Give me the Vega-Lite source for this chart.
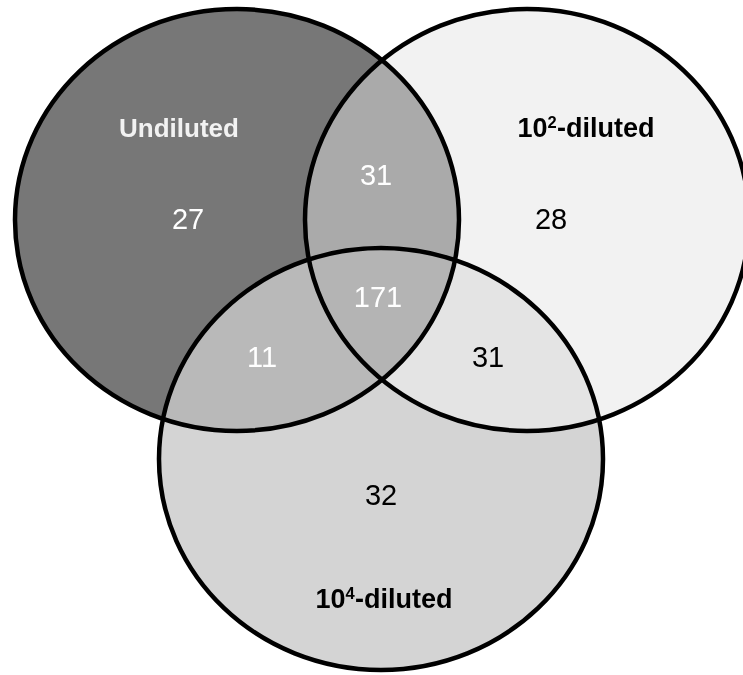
{
  "$schema": "https://vega.github.io/schema/vega-lite/v6.json",
  "width": 743,
  "height": 675,
  "padding": 0,
  "autosize": {"type": "none"},
  "background": "white",
  "config": {"view": {"stroke": null}},
  "datasets": {
    "circles": [
      {"set": "Undiluted", "x": 237, "y": 220},
      {"set": "10²-diluted", "x": 527, "y": 220},
      {"set": "10⁴-diluted", "x": 381, "y": 459}
    ],
    "labels": [
      {"label": "Undiluted", "base": "Undiluted", "sup": "", "rest": "", "x": 179, "y": 137},
      {"label": "10²-diluted", "base": "10", "sup": "2", "rest": "-diluted", "x": 585.5, "y": 137},
      {"label": "10⁴-diluted", "base": "10", "sup": "4", "rest": "-diluted", "x": 383.5, "y": 608}
    ],
    "counts": [
      {"region": "Undiluted only", "sets": "U", "count": 27, "x": 188, "y": 220},
      {"region": "Undiluted and 10²", "sets": "U,D2", "count": 31, "x": 376, "y": 176},
      {"region": "10² only", "sets": "D2", "count": 28, "x": 551, "y": 220},
      {"region": "All three", "sets": "U,D2,D4", "count": 171, "x": 378, "y": 298},
      {"region": "Undiluted and 10⁴", "sets": "U,D4", "count": 11, "x": 262, "y": 358},
      {"region": "10² and 10⁴", "sets": "D2,D4", "count": 31, "x": 488, "y": 358},
      {"region": "10⁴ only", "sets": "D4", "count": 32, "x": 381, "y": 496}
    ]
  },
  "encoding": {
    "x": {"field": "x", "type": "quantitative", "scale": {"domain": [0, 743], "nice": false, "zero": false}, "axis": null},
    "y": {"field": "y", "type": "quantitative", "scale": {"domain": [0, 675], "nice": false, "zero": false, "reverse": true}, "axis": null}
  },
  "layer": [
    {
      "data": {"name": "circles"},
      "transform": [{"filter": "datum.set === 'Undiluted'"}],
      "mark": {"type": "point", "shape": "M-1,0C-1,-0.5247,-0.5523,-0.95,0,-0.95C0.5523,-0.95,1,-0.5247,1,0C1,0.5247,0.5523,0.95,0,0.95C-0.5523,0.95,-1,0.5247,-1,0Z", "size": 197136, "filled": true, "fill": "#777777", "fillOpacity": 1, "opacity": 1, "strokeWidth": 0}
    },
    {
      "data": {"name": "circles"},
      "transform": [{"filter": "datum.set === '10⁴-diluted'"}],
      "mark": {"type": "point", "shape": "M-1,0C-1,-0.5247,-0.5523,-0.95,0,-0.95C0.5523,-0.95,1,-0.5247,1,0C1,0.5247,0.5523,0.95,0,0.95C-0.5523,0.95,-1,0.5247,-1,0Z", "size": 197136, "filled": true, "fill": "#c9c9c9", "fillOpacity": 0.8015, "opacity": 1, "strokeWidth": 0}
    },
    {
      "data": {"name": "circles"},
      "transform": [{"filter": "datum.set === '10²-diluted'"}],
      "mark": {"type": "point", "shape": "M-1,0C-1,-0.5247,-0.5523,-0.95,0,-0.95C0.5523,-0.95,1,-0.5247,1,0C1,0.5247,0.5523,0.95,0,0.95C-0.5523,0.95,-1,0.5247,-1,0Z", "size": 197136, "filled": true, "fill": "#ffffff", "fillOpacity": 1, "opacity": 1, "strokeWidth": 0, "blend": "difference"}
    },
    {
      "data": {"name": "circles"},
      "transform": [{"filter": "datum.set === '10²-diluted'"}],
      "mark": {"type": "point", "shape": "M-1,0C-1,-0.5247,-0.5523,-0.95,0,-0.95C0.5523,-0.95,1,-0.5247,1,0C1,0.5247,0.5523,0.95,0,0.95C-0.5523,0.95,-1,0.5247,-1,0Z", "size": 197136, "filled": true, "fill": "#2b2b2b", "fillOpacity": 0.803, "opacity": 1, "strokeWidth": 0, "blend": "lighten"}
    },
    {
      "data": {"name": "circles"},
      "transform": [{"filter": "datum.set === '10²-diluted'"}],
      "mark": {"type": "point", "shape": "M-1,0C-1,-0.5247,-0.5523,-0.95,0,-0.95C0.5523,-0.95,1,-0.5247,1,0C1,0.5247,0.5523,0.95,0,0.95C-0.5523,0.95,-1,0.5247,-1,0Z", "size": 197136, "filled": true, "fill": "#b9b9b9", "fillOpacity": 0.747, "opacity": 1, "strokeWidth": 0, "blend": "color-dodge"}
    },
    {
      "data": {"name": "circles"},
      "transform": [{"filter": "datum.set === '10²-diluted'"}],
      "mark": {"type": "point", "shape": "M-1,0C-1,-0.5247,-0.5523,-0.95,0,-0.95C0.5523,-0.95,1,-0.5247,1,0C1,0.5247,0.5523,0.95,0,0.95C-0.5523,0.95,-1,0.5247,-1,0Z", "size": 197136, "filled": true, "fill": "#989898", "fillOpacity": 1, "opacity": 1, "strokeWidth": 0, "blend": "multiply"}
    },
    {
      "data": {"name": "circles"},
      "transform": [{"filter": "datum.set === '10²-diluted'"}],
      "mark": {"type": "point", "shape": "M-1,0C-1,-0.5247,-0.5523,-0.95,0,-0.95C0.5523,-0.95,1,-0.5247,1,0C1,0.5247,0.5523,0.95,0,0.95C-0.5523,0.95,-1,0.5247,-1,0Z", "size": 197136, "filled": true, "fill": "#313131", "fillOpacity": 1, "opacity": 1, "strokeWidth": 0, "blend": "difference"}
    },
    {
      "data": {"name": "circles"},
      "transform": [{"filter": "datum.set === '10²-diluted'"}],
      "mark": {"type": "point", "shape": "M-1,0C-1,-0.5247,-0.5523,-0.95,0,-0.95C0.5523,-0.95,1,-0.5247,1,0C1,0.5247,0.5523,0.95,0,0.95C-0.5523,0.95,-1,0.5247,-1,0Z", "size": 197136, "filled": true, "fill": "#ffffff", "fillOpacity": 1, "opacity": 1, "strokeWidth": 0, "blend": "difference"}
    },
    {
      "data": {"name": "circles"},
      "mark": {"type": "point", "shape": "M-1,0C-1,-0.5247,-0.5523,-0.95,0,-0.95C0.5523,-0.95,1,-0.5247,1,0C1,0.5247,0.5523,0.95,0,0.95C-0.5523,0.95,-1,0.5247,-1,0Z", "size": 197136, "filled": false, "fill": null, "stroke": "#000000", "strokeWidth": 4.5, "opacity": 1}
    },
    {
      "data": {"name": "labels"},
      "transform": [{"filter": "datum.sup === ''"}],
      "mark": {"type": "text", "font": "Liberation Sans", "fontWeight": "bold", "fontSize": 26, "align": "center", "baseline": "alphabetic", "color": "#f2f2f2"},
      "encoding": {"text": {"field": "base", "type": "nominal"}}
    },
    {
      "data": {"name": "labels"},
      "transform": [{"filter": "datum.sup !== ''"}],
      "mark": {"type": "text", "font": "Liberation Sans", "fontWeight": "bold", "fontSize": 27, "align": "left", "baseline": "alphabetic", "dx": -68, "color": "#000000"},
      "encoding": {"text": {"field": "base", "type": "nominal"}}
    },
    {
      "data": {"name": "labels"},
      "transform": [{"filter": "datum.sup !== ''"}],
      "mark": {"type": "text", "font": "Liberation Sans", "fontWeight": "bold", "fontSize": 16.5, "align": "left", "baseline": "alphabetic", "dx": -38, "dy": -9, "color": "#000000"},
      "encoding": {"text": {"field": "sup", "type": "nominal"}}
    },
    {
      "data": {"name": "labels"},
      "transform": [{"filter": "datum.sup !== ''"}],
      "mark": {"type": "text", "font": "Liberation Sans", "fontWeight": "bold", "fontSize": 27, "align": "left", "baseline": "alphabetic", "dx": -28.5, "color": "#000000"},
      "encoding": {"text": {"field": "rest", "type": "nominal"}}
    },
    {
      "data": {"name": "counts"},
      "mark": {"type": "text", "font": "Liberation Sans", "fontSize": 29, "align": "center", "baseline": "middle"},
      "encoding": {
        "text": {"field": "count", "type": "quantitative"},
        "color": {"condition": {"test": "indexof(datum.sets, 'U') >= 0", "value": "#ffffff"}, "value": "#000000"}
      }
    }
  ]
}
